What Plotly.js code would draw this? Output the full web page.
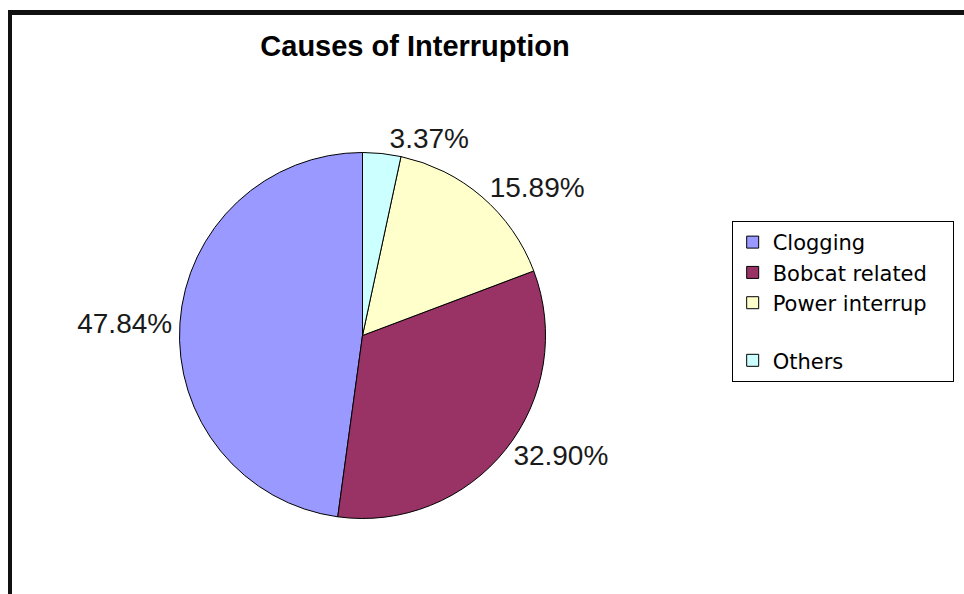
<!DOCTYPE html>
<html>
<head>
<meta charset="utf-8">
<script src="https://cdn.plot.ly/plotly-3.0.1.min.js"></script>
<style>
  html, body { margin: 0; padding: 0; background: #fff; }
  #wrap { position: relative; width: 964px; height: 594px; overflow: hidden; }
  #chart { width: 964px; height: 594px; }
  #frame { position: absolute; left: 8px; top: 10px; width: 980px; height: 600px;
           border-top: 5px solid #111; border-left: 4px solid #111; pointer-events: none; }
</style>
</head>
<body>
<div id="wrap">
  <div id="chart"></div>
  <div id="frame"></div>
</div>
<script>
const categories = ["Clogging", "Bobcat related&nbsp;&nbsp;&nbsp;", "Power interrup&nbsp;&nbsp;&nbsp;<br>&nbsp;", "Others"];
const shares = [47.84, 32.90, 15.89, 3.37];
const sliceColors = ["#9999FF", "#993366", "#FFFFCC", "#CCFFFF"];
const chartTitle = "Causes of Interruption";

// Plotly's counterclockwise layout ends the first slice at the rotation angle;
// shift so the first slice starts at 12 o'clock instead.
const total = shares.reduce((a, b) => a + b, 0);
const startRotation = -shares[0] / total * 360;

const trace = {
  type: "pie",
  labels: categories,
  values: shares,
  sort: false,
  direction: "counterclockwise",
  rotation: startRotation,
  marker: { colors: sliceColors, line: { color: "#000", width: 1 } },
  textposition: "outside",
  texttemplate: "%{percent:.2%}",
  textfont: { family: "Liberation Sans", size: 28, color: "#1a1a1a" },
  hoverinfo: "none",
  domain: { x: [0.1862, 0.5659], y: [0.1271, 0.7433] }
};

const layout = {
  width: 964, height: 594,
  margin: { l: 0, r: 0, t: 0, b: 0 },
  paper_bgcolor: "#fff",
  showlegend: true,
  title: {
    text: chartTitle,
    x: 0.4305, xanchor: "center", xref: "paper",
    y: 0.922, yanchor: "middle", yref: "paper",
    font: { family: "Liberation Sans", size: 29, color: "#000", weight: "bold" }
  },
  legend: {
    x: 0.759, xanchor: "left",
    y: 0.628, yanchor: "top",
    bgcolor: "#fff",
    bordercolor: "#000", borderwidth: 1,
    valign: "top",
    font: { family: "DejaVu Sans", size: 21, color: "#000" }
  }
};

Plotly.newPlot("chart", [trace], layout, { displayModeBar: false, staticPlot: true });
</script>
</body>
</html>
